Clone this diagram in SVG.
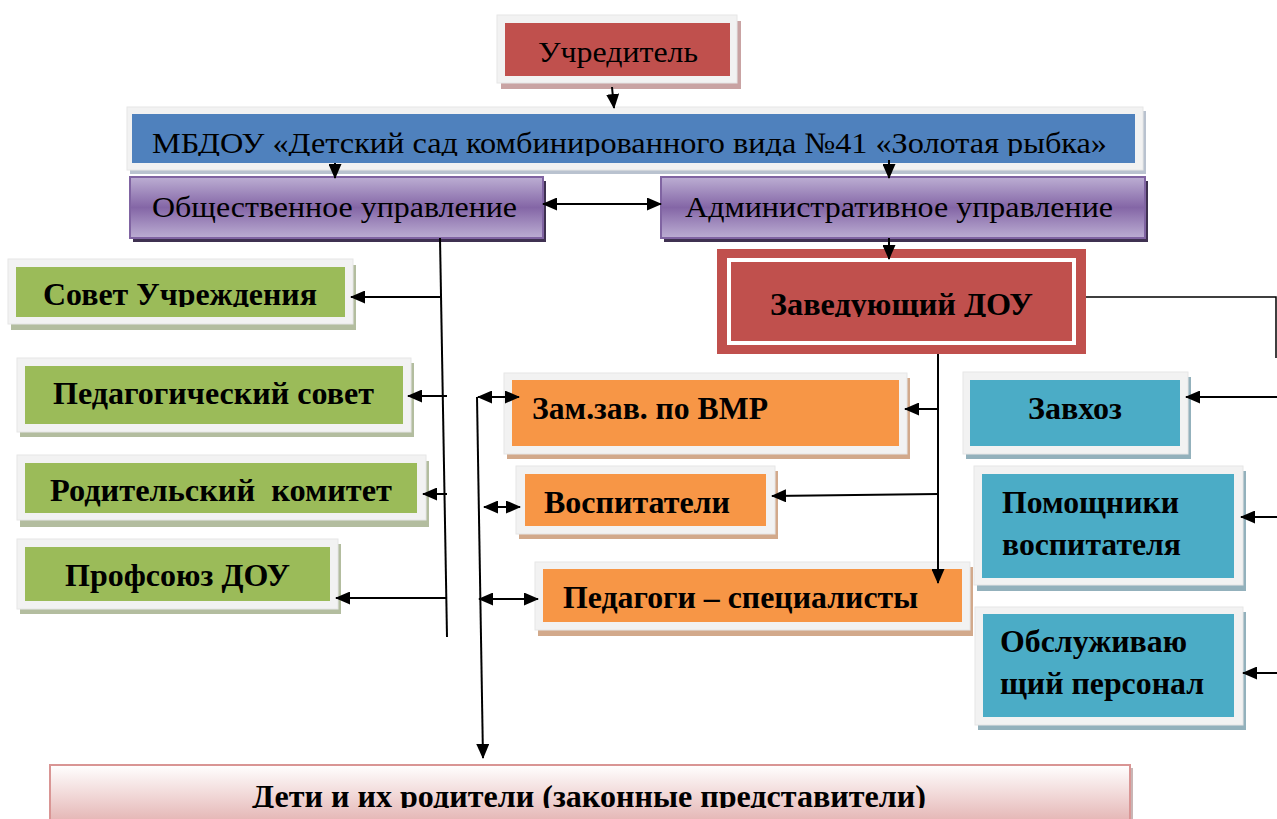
<svg xmlns="http://www.w3.org/2000/svg" width="1277" height="819" viewBox="0 0 1277 819">
<style>
.frame{fill:#f2f2f2;stroke:#e6e6e6;stroke-width:1}
.red{fill:#c0504d}
.blue{fill:#4f81bd}
.green{fill:#9bbb59}
.orange{fill:#f79646}
.teal{fill:#4bacc6}
.sh-red{fill:#c9a3a3}
.sh-blue{fill:#b9c2cf}
.sh-green{fill:#b3bd9f}
.sh-orange{fill:#d2a98b}
.sh-teal{fill:#93b1bc}
.sh-purple{fill:#3f3151}
.purple{fill:url(#gPurple);stroke:#8064a2;stroke-width:2}
.reg{font-family:"Liberation Serif","Times New Roman",serif;font-size:30px;fill:#000}
.bold{font-family:"Liberation Serif","Times New Roman",serif;font-size:32px;font-weight:bold;fill:#000}
.con{stroke:#000;stroke-width:2;fill:none}
.thin{stroke:#000;stroke-width:1.5;fill:none}
</style>
<defs>
<linearGradient id="gPurple" x1="0" y1="0" x2="0" y2="1">
<stop offset="0" stop-color="#bcaed3"/>
<stop offset="0.5" stop-color="#8466a6"/>
<stop offset="1" stop-color="#bcaed3"/>
</linearGradient>
<linearGradient id="gPink" x1="0" y1="0" x2="0" y2="1">
<stop offset="0" stop-color="#ffffff"/>
<stop offset="1" stop-color="#e3b1b0"/>
</linearGradient>
<marker id="ah" viewBox="0 0 15 13" markerUnits="userSpaceOnUse" markerWidth="15" markerHeight="13" refX="14" refY="6.5" orient="auto-start-reverse">
<path d="M0,0 L15,6.5 L0,13 z" fill="#000"/>
</marker>
<clipPath id="cMbdou"><rect x="127" y="100" width="1020" height="56"/></clipPath>
<clipPath id="cSovet"><rect x="0" y="259" width="360" height="48"/></clipPath>
<clipPath id="cZav"><rect x="718" y="249" width="370" height="68"/></clipPath>
<clipPath id="cDeti"><rect x="40" y="765" width="1100" height="43"/></clipPath>
</defs>

<g id="uchreditel">
<rect class="sh-red" x="501" y="21" width="240" height="68"/>
<rect class="frame" x="497" y="15" width="240" height="68"/>
<rect class="red" x="505" y="23" width="225" height="53"/>
<text class="reg" x="538" y="62" font-size="31" textLength="160" lengthAdjust="spacingAndGlyphs">Учредитель</text>
</g>

<g id="mbdou">
<rect class="sh-blue" x="130" y="111" width="1016" height="63"/>
<rect class="frame" x="127" y="107" width="1016" height="63"/>
<rect class="blue" x="132" y="114" width="1003" height="49"/>
<text class="reg" x="152" y="153" textLength="955" lengthAdjust="spacingAndGlyphs" clip-path="url(#cMbdou)">МБДОУ «Детский сад комбинированного вида №41 «Золотая рыбка»</text>
</g>

<g id="obshch">
<rect class="sh-purple" x="133" y="181" width="413" height="61"/>
<rect class="purple" x="130" y="177" width="413" height="61"/>
<text class="reg" x="152" y="217" textLength="365" lengthAdjust="spacingAndGlyphs">Общественное управление</text>
</g>

<g id="admin">
<rect class="sh-purple" x="664" y="181" width="484" height="61"/>
<rect class="purple" x="661" y="177" width="484" height="61"/>
<text class="reg" x="685" y="217" textLength="428" lengthAdjust="spacingAndGlyphs">Административное управление</text>
</g>

<g id="zaveduyushchiy">
<rect class="red" x="717" y="249" width="369" height="105"/>
<rect x="729" y="260" width="345" height="83" fill="none" stroke="#ffffff" stroke-width="4"/>
<text class="bold" x="770" y="315" textLength="263" lengthAdjust="spacingAndGlyphs" clip-path="url(#cZav)">Заведующий ДОУ</text>
</g>

<g id="sovet">
<rect class="sh-green" x="11" y="265" width="345" height="65"/>
<rect class="frame" x="8" y="259" width="345" height="65"/>
<rect class="green" x="16" y="267" width="329" height="50"/>
<text class="bold" x="43" y="305" textLength="274" lengthAdjust="spacingAndGlyphs" clip-path="url(#cSovet)">Совет Учреждения</text>
</g>

<g id="pedsovet">
<rect class="sh-green" x="20" y="363" width="394" height="74"/>
<rect class="frame" x="17" y="358" width="394" height="74"/>
<rect class="green" x="25" y="366" width="378" height="58"/>
<text class="bold" x="53" y="404" textLength="321" lengthAdjust="spacingAndGlyphs">Педагогический совет</text>
</g>

<g id="rodkom">
<rect class="sh-green" x="20" y="461" width="409" height="66"/>
<rect class="frame" x="17" y="455" width="409" height="65"/>
<rect class="green" x="25" y="463" width="392" height="50"/>
<text class="bold" x="50" y="501" textLength="342" lengthAdjust="spacingAndGlyphs" xml:space="preserve">Родительский  комитет</text>
</g>

<g id="profsoyuz">
<rect class="sh-green" x="20" y="544" width="321" height="70"/>
<rect class="frame" x="17" y="539" width="321" height="70"/>
<rect class="green" x="25" y="547" width="305" height="54"/>
<text class="bold" x="65" y="586" textLength="225" lengthAdjust="spacingAndGlyphs">Профсоюз ДОУ</text>
</g>

<g id="zamzav">
<rect class="sh-orange" x="507" y="378" width="403" height="81"/>
<rect class="frame" x="504" y="373" width="403" height="81"/>
<rect class="orange" x="512" y="380" width="387" height="66"/>
<text class="bold" x="532" y="419" textLength="236" lengthAdjust="spacingAndGlyphs">Зам.зав. по ВМР</text>
</g>

<g id="vospitateli">
<rect class="sh-orange" x="519" y="471" width="259" height="68"/>
<rect class="frame" x="516" y="466" width="259" height="68"/>
<rect class="orange" x="525" y="474" width="241" height="52"/>
<text class="bold" x="544" y="513" textLength="186" lengthAdjust="spacingAndGlyphs">Воспитатели</text>
</g>

<g id="pedagogi">
<rect class="sh-orange" x="538" y="567" width="435" height="69"/>
<rect class="frame" x="535" y="562" width="435" height="68"/>
<rect class="orange" x="543" y="569" width="419" height="53"/>
<text class="bold" x="563" y="608" textLength="355" lengthAdjust="spacingAndGlyphs">Педагоги – специалисты</text>
</g>

<g id="zavkhoz">
<rect class="sh-teal" x="966" y="377" width="225" height="82"/>
<rect class="frame" x="963" y="372" width="225" height="82"/>
<rect class="teal" x="970" y="380" width="210" height="66"/>
<text class="bold" x="1028" y="419" textLength="94" lengthAdjust="spacingAndGlyphs">Завхоз</text>
</g>

<g id="pomoshchniki">
<rect class="sh-teal" x="977" y="471" width="269" height="120"/>
<rect class="frame" x="974" y="466" width="269" height="119"/>
<rect class="teal" x="982" y="474" width="252" height="104"/>
<text class="bold" x="1002" y="513" textLength="177" lengthAdjust="spacingAndGlyphs">Помощники</text>
<text class="bold" x="1002" y="555" textLength="179" lengthAdjust="spacingAndGlyphs">воспитателя</text>
</g>

<g id="obsluzhivayushchiy">
<rect class="sh-teal" x="978" y="612" width="268" height="118"/>
<rect class="frame" x="975" y="607" width="268" height="118"/>
<rect class="teal" x="983" y="614" width="251" height="103"/>
<text class="bold" x="1000" y="652" textLength="187" lengthAdjust="spacingAndGlyphs">Обслуживаю</text>
<text class="bold" x="1000" y="694" textLength="204" lengthAdjust="spacingAndGlyphs">щий персонал</text>
</g>

<g id="deti">
<rect x="53" y="768" width="1080" height="60" fill="#c9b5b5"/>
<rect x="50" y="765" width="1080" height="60" fill="url(#gPink)" stroke="#d99594" stroke-width="2"/>
<text class="bold" x="252" y="807" textLength="674" lengthAdjust="spacingAndGlyphs" clip-path="url(#cDeti)">Дети и их родители (законные представители)</text>
</g>

<g id="connectors">
<line class="con" x1="612" y1="87" x2="614" y2="108" marker-end="url(#ah)"/>
<line class="con" x1="335" y1="163" x2="335" y2="178" marker-end="url(#ah)"/>
<line class="con" x1="889" y1="160" x2="889" y2="178" marker-end="url(#ah)"/>
<line class="con" x1="543" y1="204" x2="661" y2="204" marker-start="url(#ah)" marker-end="url(#ah)"/>
<line class="con" x1="889" y1="238" x2="889" y2="259" marker-end="url(#ah)"/>
<polyline class="thin" points="1086,297 1276,297 1276,358"/>
<line class="con" x1="1277" y1="397" x2="1186" y2="397" marker-end="url(#ah)"/>
<line class="con" x1="1277" y1="517" x2="1241" y2="517" marker-end="url(#ah)"/>
<line class="con" x1="1277" y1="673" x2="1243" y2="673" marker-end="url(#ah)"/>
<line class="con" x1="938" y1="354" x2="938" y2="583" marker-end="url(#ah)"/>
<line class="con" x1="938" y1="409" x2="905" y2="409" marker-end="url(#ah)"/>
<line class="con" x1="938" y1="494" x2="772" y2="496" marker-end="url(#ah)"/>
<line class="con" x1="440" y1="238" x2="447" y2="637"/>
<line class="con" x1="440" y1="297" x2="351" y2="297" marker-end="url(#ah)"/>
<line class="con" x1="447" y1="396" x2="408" y2="396" marker-end="url(#ah)"/>
<line class="con" x1="447" y1="494" x2="423" y2="494" marker-end="url(#ah)"/>
<line class="con" x1="446" y1="598" x2="336" y2="598" marker-end="url(#ah)"/>
<line class="con" x1="477" y1="397" x2="483" y2="758" marker-end="url(#ah)"/>
<line class="con" x1="478" y1="397" x2="519" y2="397" marker-start="url(#ah)" marker-end="url(#ah)"/>
<line class="con" x1="484" y1="507" x2="520" y2="507" marker-start="url(#ah)" marker-end="url(#ah)"/>
<line class="con" x1="479" y1="599" x2="538" y2="599" marker-start="url(#ah)" marker-end="url(#ah)"/>
</g>
</svg>
